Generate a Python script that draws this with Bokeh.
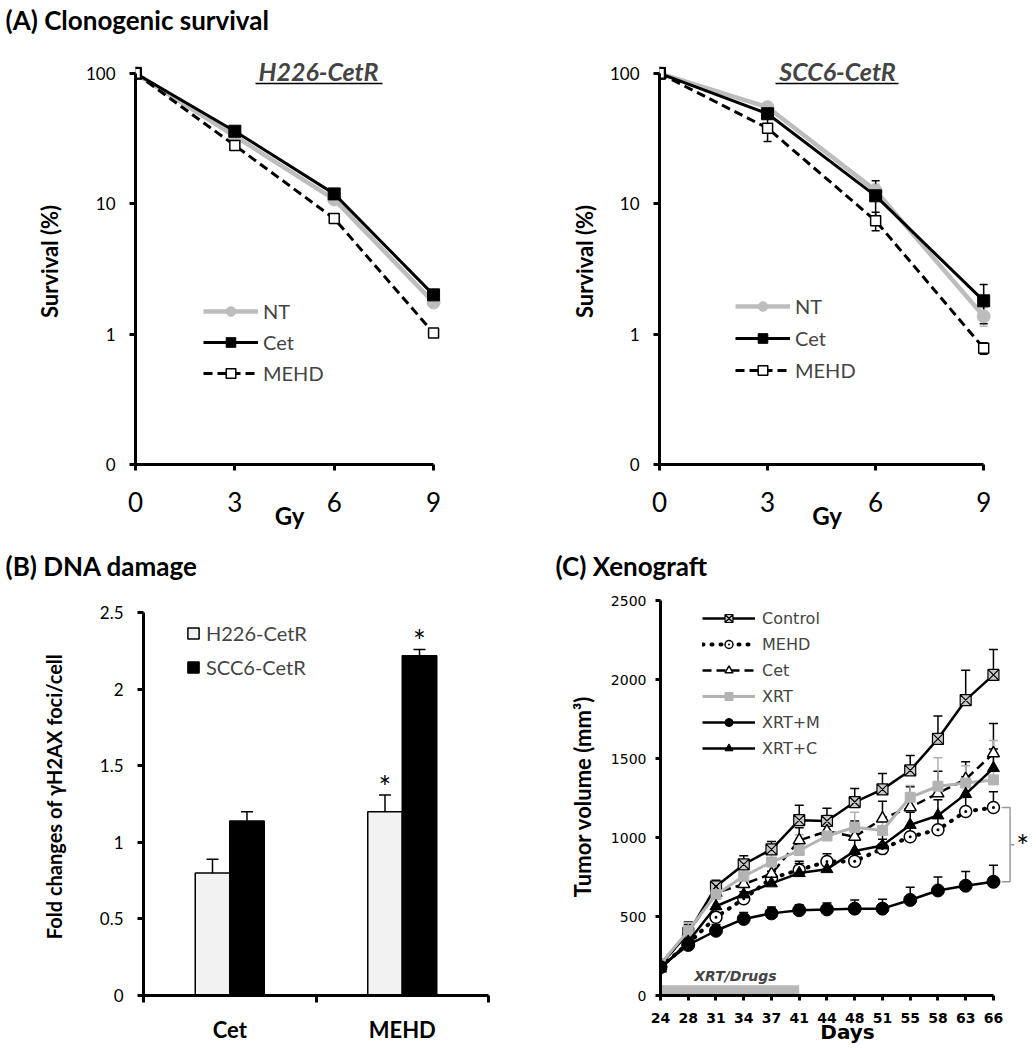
from bokeh.plotting import figure
from bokeh.models import (FixedTicker, Legend, LegendItem, Whisker, TeeHead, Label,
                          BoxAnnotation, ColumnDataSource, Range1d, Title)
from bokeh.layouts import row, column
from bokeh.embed import file_html
from bokeh.resources import INLINE
from bokeh.core.properties import value

FONT = "Lato"
FONT_C = "DejaVu Sans"
GRAY = "#bdbdbd"

# ---------------- Data ----------------
# (A) Clonogenic survival
doses = [0, 3, 6, 9]
dose_tick_labels = ["0", "3", "6", "9"]
survival_ticks = [0.1, 1, 10, 100]
survival_tick_labels = ["0", "1", "10", "100"]

h226_nt = [100, 33, 10.8, 1.75]
h226_cet = [100, 36, 11.9, 2.0]
h226_mehd = [100, 28, 7.7, 1.02]
h226_nt_err = [1, 1.5, 0.6, 0.1]
h226_cet_err = [1, 1.5, 0.6, 0.1]
h226_mehd_err = [1, 1.5, 0.5, 0.06]

scc6_nt = [100, 55, 12.6, 1.37]
scc6_cet = [100, 49, 11.5, 1.8]
scc6_mehd = [100, 38, 7.4, 0.78]
scc6_nt_err = [1, 3, 1.5, 0.22]
scc6_cet_err = [1, 4, 3.5, 0.6]
scc6_mehd_err = [1, 8, 1.2, 0.08]

# (B) DNA damage
damage_groups = ["Cet", "MEHD"]
damage_ticks = [0, 0.5, 1, 1.5, 2, 2.5]
damage_tick_labels = ["0", "0.5", "1", "1.5", "2", "2.5"]
h226_foci = [0.80, 1.20]
h226_foci_err = [0.09, 0.11]
h226_sig = ["", "*"]
scc6_foci = [1.14, 2.22]
scc6_foci_err = [0.06, 0.04]
scc6_sig = ["", "*"]

# (C) Xenograft
days = ["24", "28", "31", "34", "37", "41", "44", "48", "51", "55", "58", "63", "66"]
volume_ticks = [0, 500, 1000, 1500, 2000, 2500]
treatment_period = ("24", "41")
control = [195, 395, 690, 830, 925, 1110, 1105, 1225, 1305, 1425, 1625, 1870, 2030]
mehd = [180, 330, 495, 612, 742, 795, 848, 850, 930, 1005, 1050, 1165, 1190]
cet = [190, 400, 650, 705, 770, 982, 1040, 1005, 1120, 1192, 1280, 1370, 1533]
xrt = [200, 410, 640, 755, 845, 918, 1010, 1065, 1045, 1255, 1325, 1345, 1365]
xrt_m = [180, 320, 410, 485, 520, 540, 545, 550, 550, 605, 665, 695, 720]
xrt_c = [170, 340, 565, 640, 710, 775, 800, 915, 950, 1080, 1140, 1275, 1440]
control_err = [20, 70, 40, 55, 50, 95, 80, 85, 100, 95, 145, 190, 160]
mehd_err = [20, 40, 50, 45, 45, 55, 50, 55, 60, 70, 80, 90, 100]
cet_err = [20, 50, 60, 60, 60, 80, 100, 100, 110, 130, 140, 110, 190]
xrt_err = [20, 50, 60, 60, 70, 100, 120, 95, 80, 75, 180, 110, 250]
xrt_m_err = [15, 30, 40, 40, 40, 35, 40, 55, 60, 80, 85, 90, 105]
xrt_c_err = [15, 40, 50, 50, 50, 60, 70, 80, 80, 80, 100, 110, 120]


def base_axis(ax, font, size, bold=False, tick_out=6):
    ax.axis_line_width = 3
    ax.axis_line_color = "black"
    ax.major_tick_line_width = 3
    ax.major_tick_line_color = "black"
    ax.major_tick_in = 0
    ax.major_tick_out = tick_out
    ax.minor_tick_line_color = None
    ax.major_label_text_font = font
    ax.major_label_text_font_size = f"{size}px"
    ax.major_label_text_color = "black"
    ax.major_label_text_font_style = "bold" if bold else "normal"


def axis_label(ax, text, font, size, standoff):
    ax.axis_label = text
    ax.axis_label_text_font = font
    ax.axis_label_text_font_size = f"{size}px"
    ax.axis_label_text_font_style = "bold"
    ax.axis_label_text_color = "black"
    ax.axis_label_standoff = standoff


def clean(p):
    p.xgrid.visible = False
    p.ygrid.visible = False
    p.outline_line_color = None
    p.background_fill_color = "white"
    p.border_fill_color = "white"


def style_title(t, offset, standoff):
    t.text_font = FONT
    t.text_font_size = "26px"
    t.text_font_style = "bold"
    t.text_color = "black"
    t.align = "left"
    t.vertical_align = "top"
    t.offset = offset
    t.standoff = standoff


def add_whisker(p, x, y, err, color, lower=False, head=9):
    up = [a + b for a, b in zip(y, err)]
    lo = [a - b for a, b in zip(y, err)] if lower else list(y)
    src = ColumnDataSource(dict(x=x, up=up, lo=lo))
    w = Whisker(source=src, base="x", upper="up", lower="lo",
                line_color=color, line_width=1.5,
                upper_head=TeeHead(size=head, line_color=color, line_width=1.5),
                lower_head=TeeHead(size=head, line_color=color, line_width=1.5) if lower else None)
    p.add_layout(w)


def survival_panel(nt, cet_v, mehd_v, nt_e, cet_e, mehd_e, name, bl, br,
                   legend_loc, spacing, name_x, ul, ylab_standoff, title=None):
    p = figure(width=518, height=535, y_axis_type="log", title=None,
               x_range=Range1d(0, 9.3), y_range=Range1d(0.1, 130),
               min_border_left=bl, min_border_right=br, min_border_top=58,
               min_border_bottom=71, output_backend="svg", toolbar_location=None)
    clean(p)
    if title:
        spacer = Title(text=" ", text_font_size="1px", standoff=15)
        p.add_layout(spacer, "above")
        main = Title(text=title)
        style_title(main, -130, 5)
        p.add_layout(main, "above")
    add_whisker(p, doses, nt, nt_e, GRAY, lower=True, head=8)
    add_whisker(p, doses, cet_v, cet_e, "black", lower=True, head=8)
    add_whisker(p, doses, mehd_v, mehd_e, "black", lower=True, head=8)
    l1 = p.line(doses, nt, line_color=GRAY, line_width=4.5)
    s1 = p.scatter(doses, nt, marker="circle", size=13, fill_color=GRAY, line_color=GRAY)
    l2 = p.line(doses, cet_v, line_color="black", line_width=3)
    s2 = p.scatter(doses, cet_v, marker="square", size=12, fill_color="black", line_color="black")
    l3 = p.line(doses, mehd_v, line_color="black", line_width=3, line_dash="9 5")
    s3 = p.scatter(doses, mehd_v, marker="square", size=10, fill_color="white",
                   line_color="black", line_width=1.5)

    base_axis(p.xaxis[0], FONT, 26)
    p.xaxis.ticker = FixedTicker(ticks=doses)
    p.xaxis.major_label_overrides = {d: t for d, t in zip(doses, dose_tick_labels)}
    p.xaxis.bounds = (doses[0], doses[-1])
    p.xaxis.major_label_standoff = 21
    axis_label(p.xaxis[0], "Gy", FONT, 24, -14)

    base_axis(p.yaxis[0], FONT, 17)
    p.yaxis.ticker = FixedTicker(ticks=survival_ticks)
    p.yaxis.major_label_overrides = {t: s for t, s in zip(survival_ticks, survival_tick_labels)}
    p.yaxis.bounds = (survival_ticks[0], survival_ticks[-1])
    p.yaxis.major_label_standoff = 14
    axis_label(p.yaxis[0], "Survival (%)", FONT, 22, ylab_standoff)

    legend = Legend(items=[LegendItem(label="NT", renderers=[l1, s1]),
                           LegendItem(label="Cet", renderers=[l2, s2]),
                           LegendItem(label="MEHD", renderers=[l3, s3])],
                    location=legend_loc, glyph_width=55, glyph_height=24, label_height=24,
                    label_standoff=5, spacing=spacing, padding=0, margin=0,
                    label_text_font=FONT, label_text_font_size="20px",
                    border_line_color=None, background_fill_alpha=0)
    p.add_layout(legend)

    p.add_layout(Label(x=name_x, y=394, x_units="screen", y_units="screen", text=name,
                       text_font=FONT, text_font_size="25px", text_font_style="bold italic",
                       text_align="center", text_baseline="middle"))
    p.add_layout(BoxAnnotation(left=ul[0], right=ul[1], bottom=380.2, top=381.8,
                               left_units="screen", right_units="screen",
                               top_units="screen", bottom_units="screen",
                               fill_color="black", fill_alpha=1, line_color=None))
    return p


pa1 = survival_panel(h226_nt, h226_cet, h226_mehd, h226_nt_err, h226_cet_err, h226_mehd_err,
                     "H226-CetR", 135, 75, (68, 79), 7, 183, (120, 247), 20,
                     title="(A) Clonogenic survival")
pa2 = survival_panel(scc6_nt, scc6_cet, scc6_mehd, scc6_nt_err, scc6_cet_err, scc6_mehd_err,
                     "SCC6-CetR", 141, 42, (76, 82), 8, 178, (116, 239), 9)

# ---------------- (B) ----------------
pb = figure(width=538, height=515, x_range=Range1d(0, len(damage_groups)),
            y_range=Range1d(0, 2.6), min_border_left=143, min_border_right=50,
            min_border_top=60, min_border_bottom=55, title="(B) DNA damage",
            output_backend="svg", toolbar_location=None)
clean(pb)
style_title(pb.title, -138, 28)
grp_pos = [i + 0.5 for i in range(len(damage_groups))]
bar_w = 0.2
x_h = [g - bar_w / 2 for g in grp_pos]
x_s = [g + bar_w / 2 for g in grp_pos]
add_whisker(pb, x_h, h226_foci, h226_foci_err, "black", head=12)
add_whisker(pb, x_s, scc6_foci, scc6_foci_err, "black", head=12)
rb1 = pb.vbar(x=x_h, top=h226_foci, width=bar_w, fill_color="#f2f2f2",
              line_color="black", line_width=1.5)
rb2 = pb.vbar(x=x_s, top=scc6_foci, width=bar_w, fill_color="black",
              line_color="black", line_width=1.5)
pb.text(x=x_h, y=[v + e + 0.06 for v, e in zip(h226_foci, h226_foci_err)], text=h226_sig,
        text_font=value(FONT), text_font_size="30px", text_align="center",
        text_baseline="middle", text_color="black")
pb.text(x=x_s, y=[v + e + 0.06 for v, e in zip(scc6_foci, scc6_foci_err)], text=scc6_sig,
        text_font=value(FONT), text_font_size="30px", text_align="center",
        text_baseline="middle", text_color="black")

base_axis(pb.xaxis[0], FONT, 22, bold=True, tick_out=0)
pb.xaxis.major_tick_line_color = None
pb.xaxis.ticker = FixedTicker(ticks=grp_pos, minor_ticks=list(range(len(damage_groups) + 1)))
pb.xaxis.major_label_overrides = {g: n for g, n in zip(grp_pos, damage_groups)}
pb.xaxis.minor_tick_line_color = "black"
pb.xaxis.minor_tick_line_width = 3
pb.xaxis.minor_tick_in = 0
pb.xaxis.minor_tick_out = 7
pb.xaxis.major_label_standoff = 13

base_axis(pb.yaxis[0], FONT, 17)
pb.yaxis.ticker = FixedTicker(ticks=damage_ticks)
pb.yaxis.major_label_overrides = {t: s for t, s in zip(damage_ticks, damage_tick_labels)}
pb.yaxis.bounds = (damage_ticks[0], damage_ticks[-1])
pb.yaxis.major_label_standoff = 14
axis_label(pb.yaxis[0], "Fold changes of γH2AX foci/cell", FONT, 20, 31)

legend_b = Legend(items=[LegendItem(label="H226-CetR", renderers=[rb1]),
                         LegendItem(label="SCC6-CetR", renderers=[rb2])],
                  location=(43, 316), glyph_width=14, glyph_height=14, label_height=24,
                  label_standoff=6, spacing=10, padding=0, margin=0,
                  label_text_font=FONT, label_text_font_size="20px",
                  border_line_color=None, background_fill_alpha=0)
pb.add_layout(legend_b)

# ---------------- (C) ----------------
xi = list(range(len(days)))
last = xi[-1]
pc = figure(width=498, height=515, x_range=Range1d(0, 13.48), y_range=Range1d(0, 2520),
            min_border_left=122, min_border_right=2, min_border_top=62, min_border_bottom=52,
            title="(C) Xenograft", output_backend="svg", toolbar_location=None)
clean(pc)
style_title(pc.title, -105, 28)

t0, t1 = days.index(treatment_period[0]), days.index(treatment_period[1])
pc.quad(left=t0, right=t1, bottom=0, top=65, fill_color="#b8b8b8", line_color=None)
pc.add_layout(Label(x=(t0 + t1) / 2 + 0.2, y=125, text="XRT/Drugs", text_font=FONT_C,
                    text_font_size="14px", text_font_style="bold italic",
                    text_align="center", text_baseline="middle"))

add_whisker(pc, xi, control, control_err, "black")
add_whisker(pc, xi, mehd, mehd_err, "black")
add_whisker(pc, xi, cet, cet_err, "black")
add_whisker(pc, xi, xrt, xrt_err, "#b0b0b0")
add_whisker(pc, xi, xrt_m, xrt_m_err, "black")
add_whisker(pc, xi, xrt_c, xrt_c_err, "black")

series = [
    ("Control", control, dict(line_color="black", line_width=2.5),
     dict(marker="square_x", size=11, fill_color="#c8c8c8", line_color="black", line_width=1.2)),
    ("MEHD", mehd, dict(line_color="black", line_width=4, line_dash="1 8", line_cap="round"),
     dict(marker="circle_dot", size=12, fill_color="white", line_color="black", line_width=1.5)),
    ("Cet", cet, dict(line_color="black", line_width=2.5, line_dash="9 5"),
     dict(marker="triangle", size=12, fill_color="white", line_color="black", line_width=1.5)),
    ("XRT", xrt, dict(line_color="#b3b3b3", line_width=3),
     dict(marker="square", size=10, fill_color="#b3b3b3", line_color="#b3b3b3")),
    ("XRT+M", xrt_m, dict(line_color="black", line_width=2.5),
     dict(marker="circle", size=13, fill_color="black", line_color="black")),
    ("XRT+C", xrt_c, dict(line_color="black", line_width=2.5),
     dict(marker="triangle", size=12, fill_color="black", line_color="black")),
]
items = []
for name, vals, lkw, skw in series:
    lr = pc.line(xi, vals, **lkw)
    sr = pc.scatter(xi, vals, **skw)
    items.append(LegendItem(label=name, renderers=[lr, sr]))

# significance bracket between MEHD and XRT+M at the last time point
bx = [last + 0.3, last + 0.6, last + 0.6, last + 0.3]
by = [mehd[-1], mehd[-1], xrt_m[-1], xrt_m[-1]]
pc.line(bx, by, line_color="#9a9a9a", line_width=1.5)
mid = (mehd[-1] + xrt_m[-1]) / 2
pc.line([last + 0.6, last + 0.75], [mid, mid], line_color="#9a9a9a", line_width=1.5)
pc.add_layout(Label(x=last + 1.05, y=mid, text="*", text_font=FONT, text_font_size="30px",
                    text_align="center", text_baseline="middle", text_color="black"))

base_axis(pc.xaxis[0], FONT_C, 14, bold=True, tick_out=5)
pc.xaxis.ticker = FixedTicker(ticks=xi)
pc.xaxis.major_label_overrides = {i: d for i, d in zip(xi, days)}
pc.xaxis.bounds = (xi[0], xi[-1])
pc.xaxis.major_label_standoff = 12
axis_label(pc.xaxis[0], "Days", FONT_C, 20, -6)

base_axis(pc.yaxis[0], FONT_C, 14, tick_out=5)
pc.yaxis.ticker = FixedTicker(ticks=volume_ticks)
pc.yaxis.bounds = (volume_ticks[0], volume_ticks[-1])
pc.yaxis.major_label_standoff = 9
axis_label(pc.yaxis[0], "Tumor volume (mm³)", FONT, 22, 12)

legend_c = Legend(items=items, location=(42, 237), glyph_width=53, glyph_height=20,
                  label_height=20, label_standoff=7, spacing=6, padding=0, margin=0,
                  label_text_font=FONT_C, label_text_font_size="16px",
                  border_line_color=None, background_fill_alpha=0)
pc.add_layout(legend_c)

layout = column(row(pa1, pa2), row(pb, pc))
open("out.html", "w").write(file_html(layout, INLINE))
